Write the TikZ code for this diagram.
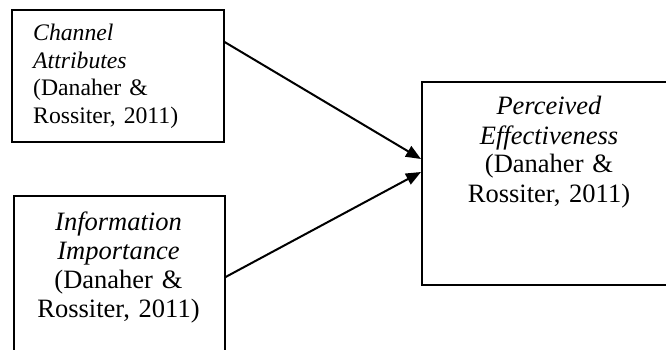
\documentclass[tikz,border=0pt]{standalone}
\usepackage{fontspec}
\setmainfont{Liberation Serif}
\usetikzlibrary{arrows.meta,positioning}
\tikzset{
  factor/.style={draw,line width=1.6pt,inner sep=0pt,anchor=north west},
  blurb/.style={inner sep=0pt,font=\fontsize{26.5}{29}\selectfont},
  link/.style={line width=2pt,-{Triangle[length=15pt,width=12pt]}}
}
\begin{document}
\begin{tikzpicture}[x=1pt,y=-1pt]
  \useasboundingbox (0,0) rectangle (666,350);
  \clip (0,0) rectangle (666,350);

  \node[factor,minimum width=212pt,minimum height=132pt] (chan) at (11,9) {};
  \node[blurb,font=\fontsize{23.7}{27.5}\selectfont,text width=185pt,align=left,anchor=base west]
    (chantxt) at (33,41) {\textit{Channel}\\\textit{Attributes}\\(Danaher \&\\Rossiter, 2011)};

  \node[factor,minimum width=211pt,minimum height=180pt] (info) at (13,195) {};
  \node[blurb,text width=205pt,align=center,anchor=base]
    (infotxt) at (118.5,230) {\textit{Information}\\\textit{Importance}\\(Danaher \&\\Rossiter, 2011)};

  \node[factor,minimum width=256pt,minimum height=203pt] (eff) at (421,81) {};
  \node[blurb,text width=250pt,align=center,anchor=base]
    (efftxt) at (549,115) {\textit{Perceived}\\\textit{Effectiveness}\\(Danaher \&\\Rossiter, 2011)};

  \coordinate (chanout) at (chan.east |- 0,42);
  \coordinate (infoout) at (info.east |- 0,277);
  \coordinate (effin1) at (eff.west |- 0,159);
  \coordinate (effin2) at (eff.west |- 0,172);
  \draw[link] (chanout) -- (effin1);
  \draw[link] (infoout) -- (effin2);
\end{tikzpicture}
\end{document}
